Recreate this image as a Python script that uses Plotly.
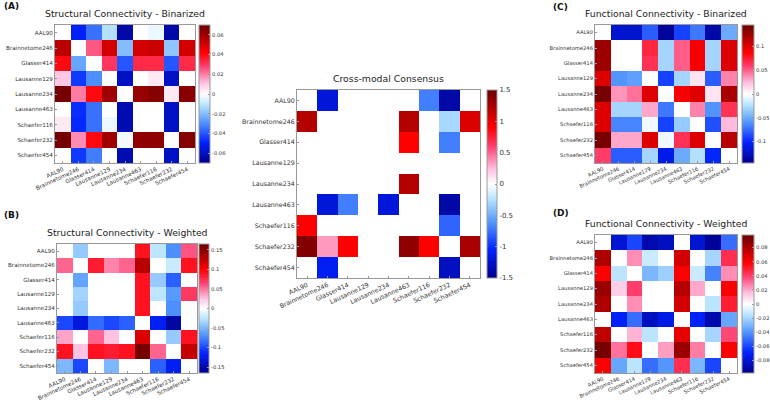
import plotly.graph_objects as go

W, H = 770, 403
R = 30  # right margin, leaves room for the last colorbar's labels

labels = ["AAL90", "Brainnetome246", "Glasser414", "Lausanne129", "Lausanne234",
          "Lausanne463", "Schaefer116", "Schaefer232", "Schaefer454"]

# structural connectivity - binarized
sc_bin = [
    [0, -0.05, -0.035, -0.012, -0.065, 0, -0.003, -0.065, 0],
    [0.055, 0, 0.025, 0.05, -0.02, 0.05, 0.052, -0.018, 0.05],
    [0.04, -0.025, 0, 0.03, -0.04, 0.033, 0.033, -0.04, 0.033],
    [0.01, -0.045, -0.03, 0, -0.06, 0, 0.004, -0.06, 0],
    [0.068, 0.02, 0.04, 0.06, 0, 0.062, 0.065, 0.004, 0.064],
    [0, -0.047, -0.035, 0, -0.063, 0, 0, -0.06, 0],
    [0.004, -0.048, -0.035, -0.003, -0.063, 0, 0, -0.06, 0],
    [0.068, 0.018, 0.04, 0.06, -0.002, 0.063, 0.063, 0, 0.065],
    [0, -0.045, -0.033, 0, -0.063, 0, 0, -0.06, 0],
]

# structural connectivity - weighted
sc_wei = [
    [0, -0.04, 0, 0, 0, 0.09, -0.025, -0.07, 0.06],
    [0.055, 0, 0.085, 0.045, 0.055, 0.13, 0, -0.02, 0.09],
    [0, -0.06, 0, 0, 0, 0.09, -0.04, -0.09, 0],
    [0, -0.035, 0, 0, 0, 0.09, -0.025, -0.065, 0.07],
    [0, -0.04, 0, 0, 0, 0.09, 0, -0.07, 0],
    [-0.1, -0.13, -0.085, -0.1, -0.09, 0, -0.12, -0.155, 0],
    [0.035, 0, 0.055, 0.025, 0, 0.115, 0, -0.04, 0.09],
    [0.09, 0.025, 0.09, 0.085, 0.09, 0.16, 0.055, 0, 0.125],
    [-0.05, -0.1, 0, -0.05, 0, 0, -0.09, -0.12, 0],
]

# cross-modal consensus
consensus = [
    [0, -1.2, 0, 0, 0, 0, -0.7, -1.4, 0],
    [1.2, 0, 0, 0, 0, 1.2, 0, -0.3, 1.05],
    [0, 0, 0, 0, 0, 0.9, 0, -0.7, 0],
    [0, 0, 0, 0, 0, 0, 0, 0, 0],
    [0, 0, 0, 0, 0, 1.2, 0, 0, 0],
    [0, -1.2, -0.7, 0, -1.2, 0, 0, -1.4, 0],
    [0.9, 0, 0, 0, 0, 0, 0, -0.8, 0],
    [1.4, 0.35, 0.9, 0, 0, 1.35, 0.9, 0, 1.25],
    [0, -1.1, 0, 0, 0, 0, 0, -1.3, 0],
]

# functional connectivity - binarized
fc_bin = [
    [0, -0.12, -0.12, -0.08, -0.14, -0.09, -0.07, -0.135, -0.05],
    [0.125, 0, 0, 0.07, -0.03, 0.05, 0.09, -0.03, 0.1],
    [0.125, 0, 0, 0.065, -0.03, 0.05, 0.09, -0.03, 0.1],
    [0.1, -0.06, -0.055, 0, -0.09, -0.03, 0.01, -0.08, 0.04],
    [0.14, 0.035, 0.045, 0.1, 0, 0.09, 0.1, 0.01, 0.12],
    [0.1, -0.03, -0.03, 0.03, -0.07, 0, 0.04, -0.06, 0.065],
    [0.1, -0.065, -0.065, -0.005, -0.09, -0.035, 0, -0.085, 0.025],
    [0.14, 0.03, 0.03, 0.1, -0.005, 0.065, 0.1, 0, 0.115],
    [0.06, -0.08, -0.08, -0.03, -0.11, -0.05, -0.025, -0.1, 0],
]

# functional connectivity - weighted
fc_wei = [
    [0, -0.08, -0.06, -0.09, -0.085, 0, -0.08, -0.095, -0.05],
    [0.08, 0, 0.025, -0.012, 0, 0.07, 0, -0.02, 0.045],
    [0.06, -0.015, 0, -0.03, -0.022, 0.06, -0.012, -0.045, 0.025],
    [0.085, 0.012, 0.04, 0, 0, 0.078, 0.02, 0, 0.06],
    [0.08, 0, 0.025, 0, 0, 0.07, 0, -0.015, 0.05],
    [0, -0.07, -0.05, -0.085, -0.075, 0, -0.07, -0.09, -0.035],
    [0.075, 0, 0.018, -0.015, 0, 0.065, 0, -0.02, 0.038],
    [0.095, 0.03, 0.055, 0, 0.022, 0.085, 0.028, 0, 0.06],
    [0.06, -0.035, -0.015, -0.05, -0.04, 0.045, -0.03, -0.06, 0],
]

cscale = [
    [0.0, "#00008c"], [0.15, "#0022ff"], [0.3, "#5599ff"], [0.42, "#b8e4ff"],
    [0.5, "#ffffff"], [0.58, "#ffc0e0"], [0.7, "#ff4070"], [0.8, "#ff0000"],
    [1.0, "#6a0000"],
]

FONT = "DejaVu Sans"


def fx(px):
    return px / (W - R)


def fy(py):
    return 1 - py / H


# panel: data, zmax, ticks, title, heatmap box px (x0, x1, y0, y1),
#        colorbar (x, width), tick font, colorbar font
panels = [
    (sc_bin, 0.07, [-0.06, -0.04, -0.02, 0, 0.02, 0.04, 0.06],
     "Structural Connectivity - Binarized", (55, 195, 25, 163), (199, 11), 5.6, 5.2),
    (sc_wei, 0.165, [-0.15, -0.1, -0.05, 0, 0.05, 0.1, 0.15],
     "Structural Connectivity - Weighted", (57, 197, 244, 373), (199, 10), 5.6, 5.2),
    (consensus, 1.5, [-1.5, -1, -0.5, 0, 0.5, 1, 1.5],
     "Cross-modal Consensus", (297, 480, 90, 278), (487, 10), 6.3, 7),
    (fc_bin, 0.145, [-0.1, -0.05, 0, 0.05, 0.1],
     "Functional Connectivity - Binarized", (595, 737, 25, 163), (742, 12), 5.2, 5.2),
    (fc_wei, 0.098, [-0.08, -0.06, -0.04, -0.02, 0, 0.02, 0.04, 0.06, 0.08],
     "Functional Connectivity - Weighted", (595, 737, 235, 373), (742, 12), 5.2, 5.2),
]

fig = go.Figure()
annotations = []

for i, (z, zm, ticks, title, box, cb, fs, cfs) in enumerate(panels):
    n = "" if i == 0 else str(i + 1)
    x0, x1, y0, y1 = box
    fig.add_trace(go.Heatmap(
        z=z, x=labels, y=labels, xaxis="x" + n, yaxis="y" + n,
        colorscale=cscale, zmin=-zm, zmax=zm, zmid=0,
        colorbar=dict(
            x=fx(cb[0]), xanchor="left", y=fy(y0), yanchor="top",
            len=y1 - y0, lenmode="pixels", thickness=cb[1], thicknessmode="pixels",
            xpad=0, ypad=0, outlinewidth=1, outlinecolor="#999",
            tickvals=ticks, ticktext=[("%g" % t) for t in ticks],
            ticks="inside", ticklen=2, tickcolor="#999",
            tickfont=dict(family=FONT, size=cfs, color="#333"),
        ),
    ))
    ax = dict(showline=True, mirror=True, linecolor="#999", linewidth=1,
              ticks="inside", ticklen=2, tickcolor="#999", showgrid=False,
              zeroline=False, automargin=False,
              tickfont=dict(family=FONT, size=fs, color="#333"))
    fig.layout["xaxis" + n] = dict(ax, domain=[fx(x0), fx(x1)], anchor="y" + n,
                                   tickangle=-25)
    fig.layout["yaxis" + n] = dict(ax, domain=[fy(y1), fy(y0)], anchor="x" + n,
                                   autorange="reversed")
    annotations.append(dict(
        text=title, x=fx((x0 + x1) / 2), y=fy(y0 - 4), xref="paper", yref="paper",
        xanchor="center", yanchor="bottom", showarrow=False,
        font=dict(family=FONT, size=9.3, color="#222")))

for letter, px, py in [("(A)", 2, 6), ("(B)", 2, 215), ("(C)", 551, 7), ("(D)", 551, 213)]:
    annotations.append(dict(
        text="<b>%s</b>" % letter, x=fx(px), y=fy(py), xref="paper", yref="paper",
        xanchor="left", yanchor="middle", showarrow=False,
        font=dict(family=FONT, size=9, color="#111")))

fig.update_layout(
    template="none",
    width=W, height=H, margin=dict(l=0, r=R, t=0, b=0, autoexpand=False),
    paper_bgcolor="white", plot_bgcolor="white",
    annotations=annotations, showlegend=False,
)

fig.write_html("out.html", config={"displayModeBar": False},
               post_script="document.body.style.margin = '0';")
